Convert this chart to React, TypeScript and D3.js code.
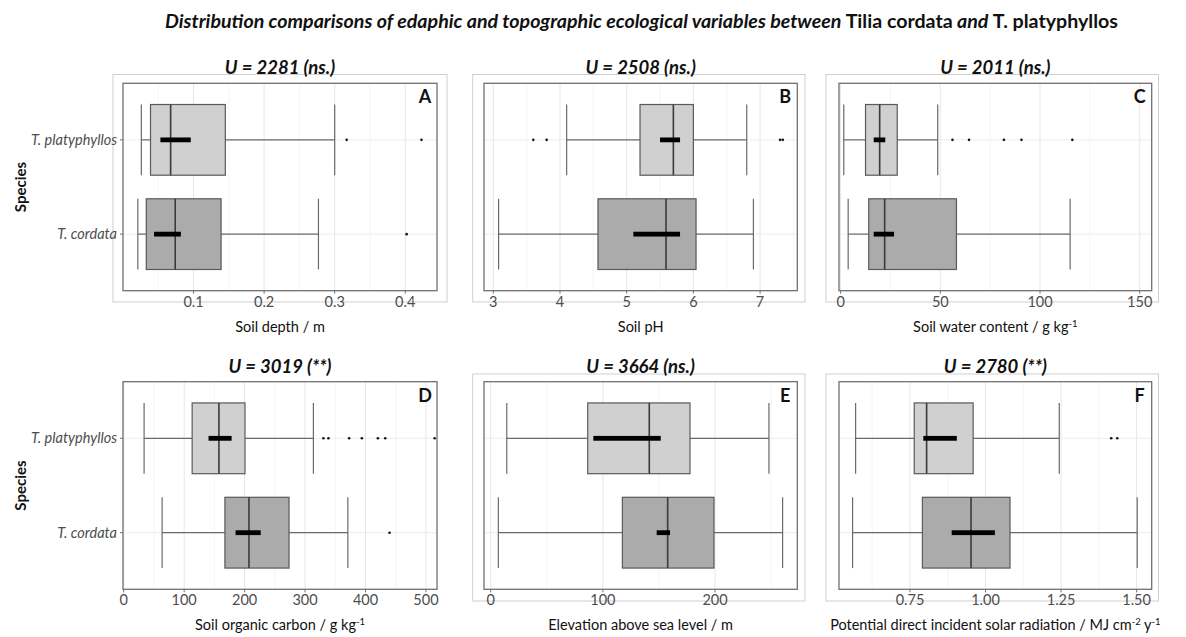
import React from "react";
import * as d3 from "d3";

// Species on the y axis (bottom to top)
const species = ["T. cordata", "T. platyphyllos"];

// Five-number summaries: [lower whisker, Q1, median, Q3, upper whisker]
// Thick bar: [lower, upper] confidence interval of the median
const depthCordata = [0.021, 0.033, 0.074, 0.139, 0.277];
const depthPlaty = [0.026, 0.039, 0.0675, 0.145, 0.3];
const depthCordataCI = [0.044, 0.082];
const depthPlatyCI = [0.053, 0.096];
const depthCordataOut = [0.402];
const depthPlatyOut = [0.317, 0.423];

const phCordata = [3.08, 4.57, 5.59, 6.04, 6.9];
const phPlaty = [4.1, 5.2, 5.7, 6.0, 6.8];
const phCordataCI = [5.1, 5.8];
const phPlatyCI = [5.5, 5.8];
const phCordataOut: number[] = [];
const phPlatyOut = [3.6, 3.8, 7.3, 7.34];

const waterCordata = [3.8, 14.1, 22.1, 58.1, 115.1];
const waterPlaty = [1.6, 12.5, 19.6, 28.4, 48.7];
const waterCordataCI = [16.6, 26.8];
const waterPlatyCI = [16.6, 22.4];
const waterCordataOut: number[] = [];
const waterPlatyOut = [56.1, 64.4, 81.9, 90.7, 116.2];

const carbonCordata = [63.5, 167.4, 207.2, 273.5, 370.8];
const carbonPlaty = [33.7, 113.2, 157.5, 200.6, 313.8];
const carbonCordataCI = [185.1, 226.6];
const carbonPlatyCI = [140.3, 178.5];
const carbonCordataOut = [439.8];
const carbonPlatyOut = [330.4, 338.7, 373, 394, 420.5, 432.6, 514.4];

const elevCordata = [6.8, 117.4, 157.8, 199.1, 260.3];
const elevPlaty = [14.3, 86.5, 141.4, 177.7, 248.1];
const elevCordataCI = [148, 159.9];
const elevPlatyCI = [91.5, 151.6];
const elevCordataOut: number[] = [];
const elevPlatyOut: number[] = [];

const radCordata = [0.56, 0.791, 0.952, 1.081, 1.502];
const radPlaty = [0.57, 0.764, 0.805, 0.959, 1.244];
const radCordataCI = [0.888, 1.031];
const radPlatyCI = [0.794, 0.905];
const radCordataOut: number[] = [];
const radPlatyOut = [1.416, 1.436];

// Panel headings, letters and axis domains/ticks
const uTitles = ["U = 2281 (ns.)", "U = 2508 (ns.)", "U = 2011 (ns.)", "U = 3019 (**)", "U = 3664 (ns.)", "U = 2780 (**)"];
const panelLetters = ["A", "B", "C", "D", "E", "F"];
const xDomains: [number, number][] = [
  [0, 0.445],
  [2.861, 7.558],
  [-0.8, 156],
  [-1.2, 518.3],
  [-6.0, 273.4],
  [0.515, 1.55],
];
const majorTicks = [
  [0.1, 0.2, 0.3, 0.4],
  [3, 4, 5, 6, 7],
  [0, 50, 100, 150],
  [0, 100, 200, 300, 400, 500],
  [0, 100, 200],
  [0.75, 1.0, 1.25, 1.5],
];
const tickFormats = [".1f", "d", "d", "d", "d", ".2f"];

type Stats = {
  box: number[];
  ci: number[];
  out: number[];
};

const panelData: Stats[][] = [
  [
    { box: depthCordata, ci: depthCordataCI, out: depthCordataOut },
    { box: depthPlaty, ci: depthPlatyCI, out: depthPlatyOut },
  ],
  [
    { box: phCordata, ci: phCordataCI, out: phCordataOut },
    { box: phPlaty, ci: phPlatyCI, out: phPlatyOut },
  ],
  [
    { box: waterCordata, ci: waterCordataCI, out: waterCordataOut },
    { box: waterPlaty, ci: waterPlatyCI, out: waterPlatyOut },
  ],
  [
    { box: carbonCordata, ci: carbonCordataCI, out: carbonCordataOut },
    { box: carbonPlaty, ci: carbonPlatyCI, out: carbonPlatyOut },
  ],
  [
    { box: elevCordata, ci: elevCordataCI, out: elevCordataOut },
    { box: elevPlaty, ci: elevPlatyCI, out: elevPlatyOut },
  ],
  [
    { box: radCordata, ci: radCordataCI, out: radCordataOut },
    { box: radPlaty, ci: radPlatyCI, out: radPlatyOut },
  ],
];

const W = 1186;
const H = 637;
const FONT = "Lato, 'Open Sans', sans-serif";

// Panel geometry
const colX: [number, number][] = [
  [123, 437],
  [484, 797.3],
  [839, 1151.7],
];
const rowY: [number, number][] = [
  [83.3, 290.7],
  [381.7, 589.3],
];
const outerX: [number, number][] = [
  [113, 447],
  [472.7, 805],
  [826, 1158.5],
];
const outerY: [number, number][] = [
  [74.5, 302],
  [374, 601],
];

const fills = ["#ababab", "#d0d0d0"];

function XLabel({ i }: { i: number }) {
  const sup = { baselineShift: "super", fontSize: 9.5 } as React.CSSProperties;
  switch (i) {
    case 0:
      return <>Soil depth / m</>;
    case 1:
      return <>Soil pH</>;
    case 2:
      return (
        <>
          Soil water content / g kg<tspan style={sup}>-1</tspan>
        </>
      );
    case 3:
      return (
        <>
          Soil organic carbon / g kg<tspan style={sup}>-1</tspan>
        </>
      );
    case 4:
      return <>Elevation above sea level / m</>;
    default:
      return (
        <>
          Potential direct incident solar radiation / MJ cm<tspan style={sup}>-2</tspan>
          <tspan> y</tspan>
          <tspan style={sup}>-1</tspan>
        </>
      );
  }
}

function Panel({ i }: { i: number }) {
  const col = i % 3;
  const row = Math.floor(i / 3);
  const [x0, x1] = colX[col];
  const [y0, y1] = rowY[row];
  const x = d3.scaleLinear().domain(xDomains[i]).range([x0, x1]);
  // discrete positions 1..2 with 0.6 units of padding on each side
  const yc = d3.scaleLinear().domain([0.4, 2.6]).range([y1, y0]);
  const boxH = yc(0) - yc(0.75);
  const majors = majorTicks[i];
  const step = majors[1] - majors[0];
  const minors: number[] = [];
  for (let k = -1; k < majors.length; k++) {
    const v = majors[0] + step * (k + 0.5);
    const [d0, d1] = xDomains[i];
    if (v > d0 && v < d1) minors.push(v);
  }
  const fmt = d3.format(tickFormats[i]);
  const showY = col === 0;

  return (
    <g>
      {i !== 3 && (
        <rect
          x={outerX[col][0]}
          y={outerY[row][0]}
          width={outerX[col][1] - outerX[col][0]}
          height={outerY[row][1] - outerY[row][0]}
          fill="none"
          stroke="#cfcfcf"
          strokeWidth={1}
        />
      )}
      {/* grid */}
      {minors.map((v) => (
        <line key={"mn" + v} x1={x(v)} x2={x(v)} y1={y0} y2={y1} stroke="#f3f3f3" strokeWidth={0.8} />
      ))}
      {majors.map((v) => (
        <line key={"mj" + v} x1={x(v)} x2={x(v)} y1={y0} y2={y1} stroke="#e6e6e6" strokeWidth={1} />
      ))}
      {species.map((s, k) => (
        <line key={"hg" + s} x1={x0} x2={x1} y1={yc(k + 1)} y2={yc(k + 1)} stroke="#ededed" strokeWidth={1} />
      ))}
      {/* boxes */}
      {panelData[i].map((d, k) => {
        const cy = yc(k + 1);
        const [lo, q1, md, q3, hi] = d.box;
        return (
          <g key={"b" + k}>
            <line x1={x(lo)} x2={x(q1)} y1={cy} y2={cy} stroke="#6a6a6a" strokeWidth={1.2} />
            <line x1={x(q3)} x2={x(hi)} y1={cy} y2={cy} stroke="#6a6a6a" strokeWidth={1.2} />
            <line x1={x(lo)} x2={x(lo)} y1={cy - boxH / 2} y2={cy + boxH / 2} stroke="#6a6a6a" strokeWidth={1.2} />
            <line x1={x(hi)} x2={x(hi)} y1={cy - boxH / 2} y2={cy + boxH / 2} stroke="#6a6a6a" strokeWidth={1.2} />
            <rect
              x={x(q1)}
              y={cy - boxH / 2}
              width={x(q3) - x(q1)}
              height={boxH}
              fill={fills[k]}
              stroke="#5a5a5a"
              strokeWidth={1.2}
            />
            <line x1={x(md)} x2={x(md)} y1={cy - boxH / 2} y2={cy + boxH / 2} stroke="#3a3a3a" strokeWidth={1.6} />
            <rect x={x(d.ci[0])} y={cy - 2.4} width={x(d.ci[1]) - x(d.ci[0])} height={4.8} fill="#000" />
            {d.out.map((o, m) => (
              <circle key={"o" + m} cx={x(o)} cy={cy} r={1.3} fill="#111" />
            ))}
          </g>
        );
      })}
      {/* panel border */}
      <rect x={x0} y={y0} width={x1 - x0} height={y1 - y0} fill="none" stroke="#707070" strokeWidth={1.3} />
      {/* x ticks */}
      {majors.map((v) => (
        <g key={"t" + v}>
          <line x1={x(v)} x2={x(v)} y1={y1} y2={y1 + 3} stroke="#707070" strokeWidth={1} />
          <text
            x={x(v)}
            y={y1 + 16}
            textAnchor="middle"
            fontFamily={FONT}
            fontSize={14.5}
            fill="#4d4d4d"
          >
            {fmt(v)}
          </text>
        </g>
      ))}
      <text
        x={(x0 + x1) / 2}
        y={y1 + 41}
        textAnchor="middle"
        fontFamily={FONT}
        fontSize={14.5}
        fill="#111"
      >
        <XLabel i={i} />
      </text>
      {/* y axis */}
      {showY &&
        species.map((s, k) => (
          <g key={"yl" + s}>
            <line x1={x0 - 3} x2={x0} y1={yc(k + 1)} y2={yc(k + 1)} stroke="#707070" strokeWidth={1} />
            <text
              x={x0 - 6}
              y={yc(k + 1) + 5}
              textAnchor="end"
              fontFamily={FONT}
              fontSize={14.5}
              fontStyle="italic"
              fill="#4d4d4d"
            >
              {s}
            </text>
          </g>
        ))}
      {showY && (
        <text
          transform={`translate(${26},${(y0 + y1) / 2}) rotate(-90)`}
          textAnchor="middle"
          fontFamily={FONT}
          fontSize={15}
          fontWeight="bold"
          fill="#111"
        >
          Species
        </text>
      )}
      {/* headings */}
      <text
        x={(x0 + x1) / 2}
        y={y0 - 9}
        textAnchor="middle"
        fontFamily={FONT}
        fontSize={18.5}
        fontWeight="bold"
        fontStyle="italic"
        fill="#111"
      >
        {uTitles[i]}
      </text>
      <text
        x={x1 - 12}
        y={y0 + 20}
        textAnchor="middle"
        fontFamily={FONT}
        fontSize={18}
        fontWeight="bold"
        fill="#111"
      >
        {panelLetters[i]}
      </text>
    </g>
  );
}

export default function App() {
  return (
    <svg
      width={W}
      height={H}
      viewBox={`0 0 ${W} ${H}`}
      style={{ position: "absolute", left: 0, top: 0, background: "#fff" }}
    >
      <rect x={0} y={0} width={W} height={H} fill="#fff" />
      <text
        x={641.5}
        y={28}
        textAnchor="middle"
        fontFamily={FONT}
        fontSize={18.5}
        fontWeight="bold"
        fill="#111"
        textLength={953}
        lengthAdjust="spacingAndGlyphs"
      >
        <tspan fontStyle="italic">Distribution comparisons of edaphic and topographic ecological variables between </tspan>
        <tspan>Tilia cordata</tspan>
        <tspan fontStyle="italic"> and </tspan>
        <tspan>T. platyphyllos</tspan>
      </text>
      {[0, 1, 2, 3, 4, 5].map((i) => (
        <Panel key={i} i={i} />
      ))}
    </svg>
  );
}
